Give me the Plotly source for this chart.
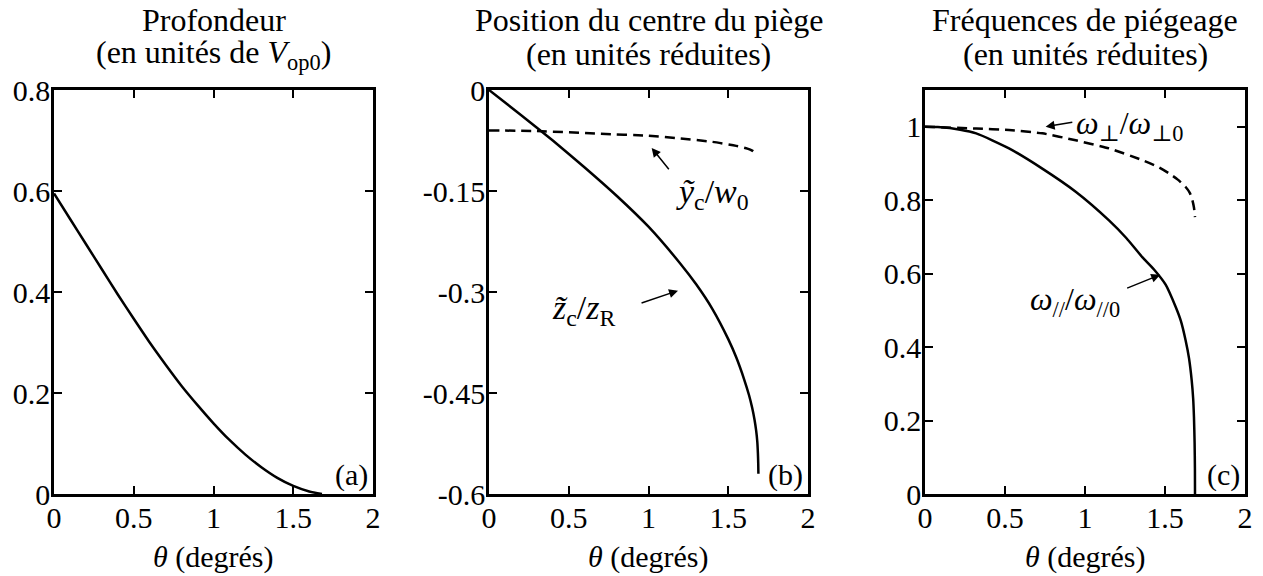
import plotly.graph_objects as go

# ---------------- data ----------------
# (a) trap depth vs theta
theta_a = [0, 0.1, 0.2, 0.3, 0.4, 0.5, 0.6, 0.7, 0.8, 0.9, 1.0, 1.1, 1.2, 1.3, 1.4, 1.5, 1.6, 1.68]
depth_a = [0.595, 0.545, 0.495, 0.445, 0.395, 0.347, 0.300, 0.256, 0.214, 0.176, 0.140, 0.107,
           0.078, 0.053, 0.032, 0.016, 0.005, 0.0]

# (b) trap centre position
theta_zc = [0, 0.2, 0.4, 0.6, 0.8, 1.0, 1.2, 1.3, 1.4, 1.5, 1.55, 1.6, 1.63, 1.65, 1.665, 1.675,
            1.682, 1.686, 1.688, 1.689]
zc = [0, -0.037, -0.075, -0.115, -0.157, -0.203, -0.258, -0.289, -0.325, -0.37, -0.397, -0.43,
      -0.453, -0.472, -0.49, -0.506, -0.522, -0.54, -0.555, -0.57]
theta_yc = [0, 0.3, 0.7, 1.0, 1.2, 1.4, 1.55, 1.62, 1.65, 1.67, 1.68]
yc = [-0.060, -0.061, -0.065, -0.068, -0.072, -0.077, -0.083, -0.087, -0.090, -0.094, -0.098]

# (c) trapping frequencies
theta_wpar = [0, 0.08, 0.22, 0.32, 0.525, 0.733, 0.942, 1.15, 1.258, 1.358, 1.43, 1.504, 1.567,
              1.6, 1.629, 1.65, 1.667, 1.676, 1.681, 1.685, 1.687, 1.6875]
wpar = [1.0, 0.999, 0.992, 0.982, 0.941, 0.886, 0.823, 0.745, 0.697, 0.645, 0.612, 0.57, 0.509,
        0.47, 0.418, 0.37, 0.309, 0.26, 0.21, 0.14, 0.07, 0.0]
theta_wperp = [0, 0.32, 0.525, 0.733, 0.942, 1.15, 1.358, 1.45, 1.525, 1.58, 1.629, 1.655, 1.671,
               1.681, 1.6875]
wperp = [1.0, 0.995, 0.991, 0.982, 0.963, 0.941, 0.909, 0.892, 0.873, 0.856, 0.836, 0.82, 0.80,
         0.78, 0.754]

# ticks
x_ticks = [0, 0.5, 1, 1.5, 2]
x_ticktext = ["0", "0.5", "1", "1.5", "2"]
ya_ticks = [0, 0.2, 0.4, 0.6, 0.8]
ya_ticktext = ["0", "0.2", "0.4", "0.6", "0.8"]
yb_ticks = [0, -0.15, -0.3, -0.45, -0.6]
yb_ticktext = ["0", "-0.15", "-0.3", "-0.45", "-0.6"]
yc_ticks = [0, 0.2, 0.4, 0.6, 0.8, 1.0]
yc_ticktext = ["0", "0.2", "0.4", "0.6", "0.8", "1"]

titles_l1 = ["Profondeur", "Position du centre du piège", "Fréquences de piégeage"]
titles_l2 = ["(en unités de <i>V</i><sub>op0</sub>)", "(en unités réduites)", "(en unités réduites)"]
xlabel = "<i>θ</i> (degrés)"
panel_tags = ["(a)", "(b)", "(c)"]

# ---------------- figure ----------------
FONT = "Liberation Serif, DejaVu Serif, serif"
FS = 30
FT = 32
OFF = 8  # page body margin
W, H = 1263 - OFF, 576 - OFF


def px(p):
    return (p - OFF) / W


def py(p):
    return 1 - (p - OFF) / H


dom_x = [(px(54), px(373)), (px(489), px(808)), (px(925), px(1245))]
dom_y = (py(494), py(90))

fig = go.Figure()
line = dict(color="black", width=2.5, shape="spline", smoothing=0.6)
dline = dict(color="black", width=2.5, dash="10px,6px", shape="spline", smoothing=0.6)
fig.add_trace(go.Scatter(x=theta_a, y=depth_a, mode="lines", line=line, xaxis="x", yaxis="y"))
fig.add_trace(go.Scatter(x=theta_zc, y=zc, mode="lines", line=line, xaxis="x2", yaxis="y2"))
fig.add_trace(go.Scatter(x=theta_yc, y=yc, mode="lines", line=dline, xaxis="x2", yaxis="y2"))
fig.add_trace(go.Scatter(x=theta_wpar, y=wpar, mode="lines", line=line, xaxis="x3", yaxis="y3"))
fig.add_trace(go.Scatter(x=theta_wperp, y=wperp, mode="lines", line=dline, xaxis="x3", yaxis="y3"))

axcommon = dict(showline=True, linecolor="black", linewidth=2.5, mirror="ticks", ticks="inside",
                ticklen=8, tickwidth=2, tickcolor="black", showgrid=False, zeroline=False,
                automargin=False, ticklabelstandoff=-5,
                tickfont=dict(family=FONT, size=FS, color="black"))
yranges = [[0, 0.8], [-0.6, 0], [0, 1.1]]
yticks = [(ya_ticks, ya_ticktext), (yb_ticks, yb_ticktext), (yc_ticks, yc_ticktext)]
layout = {}
for i in range(3):
    s = "" if i == 0 else str(i + 1)
    layout["xaxis" + s] = dict(axcommon, domain=dom_x[i], range=[0, 2], tickvals=x_ticks,
                               ticktext=x_ticktext, anchor="y" + s)
    layout["yaxis" + s] = dict(axcommon, domain=dom_y, range=yranges[i], tickvals=yticks[i][0],
                               ticktext=yticks[i][1], anchor="x" + s)
fig.update_layout(**layout)

tfont = dict(family=FONT, size=FT, color="black")
annotations = []
for i in range(3):
    s = "" if i == 0 else str(i + 1)
    xd = "x" + s + " domain"
    annotations.append(dict(text=titles_l1[i], xref=xd, yref="paper", x=0.5, y=py(20),
                            xanchor="center", yanchor="middle", showarrow=False, font=tfont))
    annotations.append(dict(text=titles_l2[i], xref=xd, yref="paper", x=0.5, y=py(54),
                            xanchor="center", yanchor="middle", showarrow=False, font=tfont))
    annotations.append(dict(text=xlabel, xref=xd, yref="paper", x=0.5, y=py(557),
                            xanchor="center", yanchor="middle", showarrow=False,
                            font=dict(family=FONT, size=FS, color="black")))
    annotations.append(dict(text=panel_tags[i], xref=xd, yref="y" + s + " domain", x=0.99, y=0.0,
                            xanchor="right", yanchor="bottom", showarrow=False,
                            font=dict(family=FONT, size=FS, color="black")))

arrow = dict(showarrow=True, arrowhead=2, arrowsize=1.2, arrowwidth=1.5, arrowcolor="black", text="")
lfont = dict(family=FONT, size=34, color="black")
wfont = dict(family=FONT, size=32, color="black")
# (b) labels
annotations.append(dict(arrow, xref="x2", yref="y2", x=1.02, y=-0.086, axref="x2", ayref="y2",
                        ax=1.135, ay=-0.12))
annotations.append(dict(text="<i>ỹ</i><sub>c</sub>/<i>w</i><sub>0</sub>", xref="x2", yref="y2",
                        x=1.40, y=-0.154, showarrow=False, font=lfont))
annotations.append(dict(arrow, xref="x2", yref="y2", x=1.185, y=-0.298, axref="x2", ayref="y2",
                        ax=0.947, ay=-0.317))
annotations.append(dict(text="<i>z\u0303</i><sub>c</sub>/<i>z</i><sub>R</sub>", xref="x2", yref="y2",
                        x=0.59, y=-0.327, showarrow=False, font=lfont))
# (c) labels
annotations.append(dict(arrow, xref="x3", yref="y3", x=0.754, y=1.0, axref="x3", ayref="y3",
                        ax=0.93, ay=1.013))
annotations.append(dict(text="<i>ω</i><sub>⊥</sub>/<i>ω</i><sub>⊥0</sub>", xref="x3", yref="y3",
                        x=1.275, y=1.004, showarrow=False, font=wfont))
annotations.append(dict(arrow, xref="x3", yref="y3", x=1.47, y=0.597, axref="x3", ayref="y3",
                        ax=1.254, ay=0.559))
annotations.append(dict(text="<i>ω</i><sub>//</sub>/<i>ω</i><sub>//0</sub>", xref="x3", yref="y3",
                        x=0.94, y=0.523, showarrow=False, font=wfont))

fig.update_layout(width=W, height=H, margin=dict(l=0, r=0, t=0, b=0), showlegend=False,
                  template="none",
                  paper_bgcolor="white", plot_bgcolor="white", annotations=annotations,
                  font=dict(family=FONT, size=FS, color="black"))

fig.write_html("out.html")
